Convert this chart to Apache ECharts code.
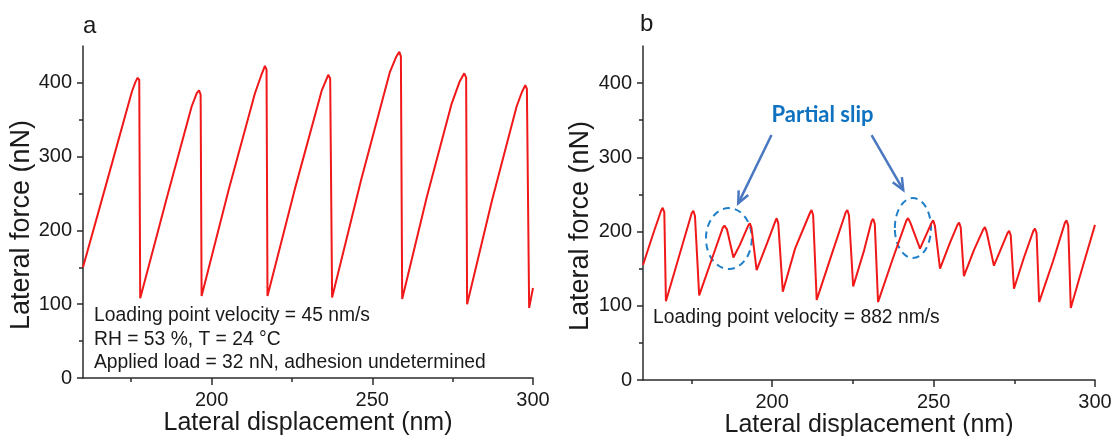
<!DOCTYPE html>
<html><head><meta charset="utf-8">
<script src="https://cdn.jsdelivr.net/npm/echarts@6/dist/echarts.min.js"></script>
<style>html,body{margin:0;padding:0;background:#fff}#c{width:1114px;height:436px}</style>
</head><body><div id="c"></div>
<script>
// Panel a: loading point velocity 45 nm/s
const aX = [160,168,175.2,176.3,177,177.5,177.8,
  186,193.8,195.4,196.1,196.6,196.9,
  205.2,213.5,215.6,216.6,217.1,217.4,
  225.9,234.3,236.3,236.9,237.5,
  246.5,255.5,257.4,258.4,258.9,259.3,
  267,274.7,277.2,278.6,279.2,279.5,
  287.2,294.9,296.5,297.6,298.1,298.8,300];
const aY = [150,275,388,401,407,404,108,
  243,368,386,390,384,111,
  253,386,412,423,418,111,
  256,390,411,406,109,
  268,415,435,442,436,107,
  246,372,402,413,407,100,
  240,368,387,397,392,95,122];
// Panel b: loading point velocity 882 nm/s
const bX = [160,163,165.6,166.1,166.6,167.1,171.4,175.1,175.6,176.1,177.4,
  181.5,184.7,185.2,186,188,190,192.6,193.1,193.6,195.2,
  198.5,201,201.4,201.9,203.3,207.1,211.7,212.2,212.7,213.8,
  218.5,222.8,223.3,223.8,225.1,228.5,230.8,231.3,231.8,232.8,
  237.5,241.6,242.1,242.8,245.8,249.4,249.9,250.4,252,
  255,257.4,257.9,258.4,259.4,262.5,265.4,265.9,266.4,268.7,
  271,272.9,273.4,273.9,274.9,278,280.9,281.4,281.9,282.7,
  287,290.7,291.2,291.7,292.5,296,300];
const bY = [155,195,228,232,226,106,170,225,228,221,114,
  165,205,208,203,165,182,208,211,205,148,
  185,214,218,211,119,177,225,229,222,108,
  170,226,229,222,126,175,214,217,210,105,
  165,215,218,212,177,212,215,208,150,
  184,209,212,206,140,175,203,206,200,154,
  178,198,201,195,123,165,201,204,198,105,
  160,212,215,208,97,150,209];
const xMajorTicks = [200, 250, 300];
const xMinorTicks = [175, 225, 275];
const yMajorTicks = [0, 100, 200, 300, 400];
const yMinorTicks = [50, 150, 250, 350];
// annotations in panel b (data units): [cx, cy, rx, ry]
const slipEllipses = [[186.6, 190.6, 7.1, 41], [243.6, 204.7, 5.6, 40.4]];
// arrows: [x1, y1, x2, y2]
const slipArrows = [[199.8, 330, 189.5, 238], [230.8, 330, 240.6, 256]];
const slipLabel = [[215.6, 357]];
const slipText = 'Partial slip';

const FONT = '"Liberation Sans", Arial, sans-serif';
const AXIS_COLOR = '#2b2b2b';
const TEXT_COLOR = '#1a1a1a';

function pairs(xs, ys) { return xs.map((x, i) => [x, ys[i]]); }

function xAxes(gridIndex) {
  return [{
    gridIndex, type: 'value', min: 160, max: 300, position: 'bottom',
    axisLine: {show: true, onZero: false, lineStyle: {color: AXIS_COLOR, width: 1.5}},
    axisTick: {show: true, inside: false, length: 7, customValues: xMajorTicks, lineStyle: {color: AXIS_COLOR, width: 1.5}},
    axisLabel: {show: true, customValues: xMajorTicks, margin: 12, color: TEXT_COLOR, fontSize: 20, fontFamily: FONT},
    splitLine: {show: false},
    name: 'Lateral displacement (nm)', nameLocation: 'middle', nameGap: 33, nameMoveOverlap: false,
    nameTextStyle: {fontSize: 25, color: TEXT_COLOR, fontFamily: FONT}
  }, {
    gridIndex, type: 'value', min: 160, max: 300, position: 'bottom',
    axisLine: {show: false},
    axisTick: {show: true, inside: false, length: 4, customValues: xMinorTicks, lineStyle: {color: AXIS_COLOR, width: 1.5}},
    axisLabel: {show: false}, splitLine: {show: false}
  }];
}
function yAxes(gridIndex) {
  return [{
    gridIndex, type: 'value', min: 0, max: 450, position: 'left',
    axisLine: {show: true, onZero: false, lineStyle: {color: AXIS_COLOR, width: 1.5}},
    axisTick: {show: true, inside: false, length: 6, customValues: yMajorTicks, lineStyle: {color: AXIS_COLOR, width: 1.5}},
    axisLabel: {show: true, customValues: yMajorTicks, margin: 11, color: TEXT_COLOR, fontSize: 20, fontFamily: FONT},
    splitLine: {show: false}
  }, {
    gridIndex, type: 'value', min: 0, max: 450, position: 'left',
    axisLine: {show: false},
    axisTick: {show: true, inside: false, length: 4, customValues: yMinorTicks, lineStyle: {color: AXIS_COLOR, width: 1.5}},
    axisLabel: {show: false}, splitLine: {show: false}
  }];
}

const chart = echarts.init(document.getElementById('c'), null, {renderer: 'canvas'});
const lineStyle = {color: '#f01818', width: 2};
function txt(x, y, text, size, extra) {
  return Object.assign({type: 'text', x, y, style: {text, font: size + 'px ' + FONT, fill: TEXT_COLOR,
    align: 'left', verticalAlign: 'middle', textAlign: 'left', textVerticalAlign: 'middle'}}, extra || {});
}
function vtxt(x, y, text, size) {
  return {type: 'text', x, y, rotation: Math.PI / 2, style: {text, font: size + 'px ' + FONT, fill: TEXT_COLOR,
    align: 'center', verticalAlign: 'middle', textAlign: 'center', textVerticalAlign: 'middle'}};
}
chart.setOption({
  animation: false,
  backgroundColor: '#fff',
  grid: [
    {left: 83, top: 46, width: 450, height: 332, outerBoundsMode: 'none'},
    {left: 643, top: 46, width: 452, height: 334, outerBoundsMode: 'none'}
  ],
  xAxis: [...xAxes(0), ...xAxes(1)],
  yAxis: [...yAxes(0), ...yAxes(1)],
  series: [
    {type: 'line', xAxisIndex: 0, yAxisIndex: 0, data: pairs(aX, aY), showSymbol: false, lineStyle, itemStyle: {color: '#f01818'}},
    {type: 'line', xAxisIndex: 2, yAxisIndex: 2, data: pairs(bX, bY), showSymbol: false, lineStyle, itemStyle: {color: '#f01818'}},
    {type: 'custom', xAxisIndex: 2, yAxisIndex: 2, data: slipEllipses, silent: true,
      renderItem(params, api) {
        const c = api.coord([api.value(0), api.value(1)]);
        const s = api.size([api.value(2), api.value(3)]);
        return {type: 'ellipse', shape: {cx: c[0], cy: c[1], rx: s[0], ry: s[1]},
          style: {fill: 'none', stroke: '#1f80c8', lineWidth: 2, lineDash: [7, 5]}};
      }},
    {type: 'custom', xAxisIndex: 2, yAxisIndex: 2, data: slipArrows, silent: true,
      renderItem(params, api) {
        const p1 = api.coord([api.value(0), api.value(1)]);
        const p2 = api.coord([api.value(2), api.value(3)]);
        const ang = Math.atan2(p2[1] - p1[1], p2[0] - p1[0]);
        const L = 13, W = 0.42;
        const h1 = [p2[0] - L * Math.cos(ang - W), p2[1] - L * Math.sin(ang - W)];
        const h2 = [p2[0] - L * Math.cos(ang + W), p2[1] - L * Math.sin(ang + W)];
        const st = {stroke: '#4a78c0', lineWidth: 2.5, fill: 'none'};
        return {type: 'group', children: [
          {type: 'line', shape: {x1: p1[0], y1: p1[1], x2: p2[0], y2: p2[1]}, style: st},
          {type: 'polyline', shape: {points: [h1, p2, h2]}, style: st}
        ]};
      }},
    {type: 'custom', xAxisIndex: 2, yAxisIndex: 2, data: slipLabel, silent: true,
      renderItem(params, api) {
        const c = api.coord([api.value(0), api.value(1)]);
        return {type: 'text', x: c[0], y: c[1], style: {text: slipText, fill: '#0f72c0',
          font: 'bold 22px Lato, "Open Sans", sans-serif', align: 'center', verticalAlign: 'middle',
          textAlign: 'center', textVerticalAlign: 'middle'}};
      }}
  ],
  graphic: [
    txt(83, 26, 'a', 24),
    txt(640, 24, 'b', 24),
    vtxt(22, 225, 'Lateral force (nN)', 27),
    vtxt(581, 226, 'Lateral force (nN)', 27),
    txt(94, 316, 'Loading point velocity = 45 nm/s', 19.3),
    txt(94, 339.5, 'RH = 53 %, T = 24 °C', 19.3),
    txt(94, 363, 'Applied load = 32 nN, adhesion undetermined', 19.3),
    txt(653, 318, 'Loading point velocity = 882 nm/s', 19.3)
  ]
});
</script></body></html>
